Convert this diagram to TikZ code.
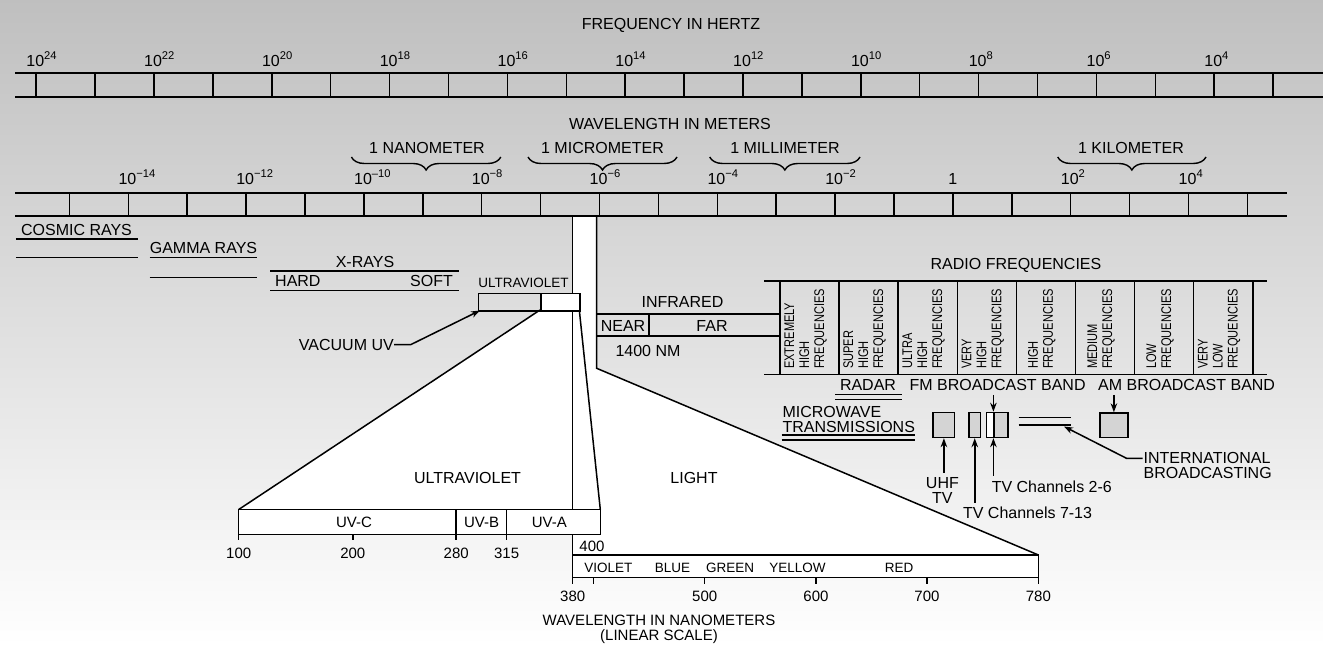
\documentclass[tikz,border=0pt]{standalone}
\usepackage{fontspec}
\setmainfont{Liberation Sans}
\usetikzlibrary{arrows.meta,decorations.pathreplacing}
\definecolor{boxgray}{gray}{0.83}
\begin{document}
\begin{tikzpicture}[x=1pt,y=-1pt,
  lab/.style={font=\fontsize{16}{16}\selectfont, inner sep=0pt},
  sml/.style={font=\fontsize{13.5}{14}\selectfont, inner sep=0pt},
  num/.style={font=\fontsize{15}{15}\selectfont, inner sep=0pt},
  rad/.style={font=\fontsize{14}{15}\selectfont, inner sep=0pt, rotate=90, anchor=west},
  bar/.style={line width=2pt},
  tk/.style={line width=1.5pt},
  ln/.style={line width=1.5pt},
  arr/.style={line width=1.5pt, -{Stealth[length=9pt,width=6.5pt]}},
  brc/.style={line width=1.4pt, decorate, decoration={brace,mirror,amplitude=13pt}},
  gbox/.style={draw, line width=1.5pt, fill=boxgray, inner sep=0pt, anchor=north west},
  wbox/.style={draw, line width=1.5pt, fill=white, inner sep=0pt, anchor=north west},
]
\useasboundingbox (0,0) rectangle (1323,646);
\shade[top color=black!25, bottom color=white] (0,0) rectangle (1323,646);

% white regions
\fill[white] (572.7,216) -- (596.7,216) -- (596.7,368.3) -- (1038.4,555) -- (572.7,555) -- cycle;
\fill[white] (540,310) -- (238.7,509.5) -- (600.3,509.5) -- (579.3,310) -- cycle;

% frequency scale
\node[lab] (fhz) at (671,25) {FREQUENCY IN HERTZ};
\draw[bar] (15,73) -- (1323,73) (15,97) -- (1323,97);
\foreach \k in {0,...,21} \draw[tk] ({36.2+58.9*\k},73) -- ({36.2+58.9*\k},97);
\foreach \k/\e in {0/24,2/22,4/20,6/18,8/16,10/14,12/12,14/10,16/8,18/6,20/4}
  \node[lab, anchor=base west] (f\e) at ({36.2+58.9*\k-10},66) {10\textsuperscript{\e}};

% wavelength scale
\node[lab] (wlm) at (670,124) {WAVELENGTH IN METERS};
\draw[bar] (15,193) -- (1287,193) (15,216) -- (1287,216);
\foreach \j in {0,...,20} \draw[tk] ({69.4+58.9*\j},193) -- ({69.4+58.9*\j},216);
\foreach \j/\e in {1/−14,3/−12,5/–10,7/−8,9/−6,11/−4,13/−2,17/2,19/4}
  \node[lab, anchor=base west] (w\j) at ({69.4+58.9*\j-10},184) {10\textsuperscript{\e}};
\node[lab, anchor=base] (w15) at ({69.4+58.9*15},184) {1};

% braces
\draw[brc] (351.4,157) -- (500.8,157);
\node[lab] (nano) at (427,148) {1 NANOMETER};
\draw[brc] (528,157) -- (677,157);
\node[lab] (micro) at (602.5,148) {1 MICROMETER};
\draw[brc] (709.7,157) -- (860,157);
\node[lab] (milli) at (785,148) {1 MILLIMETER};
\draw[brc] (1057.7,157) -- (1206,157);
\node[lab] (kilo) at (1131,148) {1 KILOMETER};

% left bands
\node[lab] (cosmic) at (76.5,230) {COSMIC RAYS};
\draw[ln] (15.8,239) -- (137.6,239) (15.8,257.7) -- (137.6,257.7);
\node[lab] (gamma) at (203.5,248) {GAMMA RAYS};
\draw[ln] (149.5,257.7) -- (257,257.7) (149.5,277.7) -- (257,277.7);
\node[lab] (xray) at (365,262) {X-RAYS};
\draw[ln] (270,271) -- (458.7,271) (270,290.3) -- (458.7,290.3);
\node[lab, anchor=west] (hard) at (275,281) {HARD};
\node[lab, anchor=east] (soft) at (453,281) {SOFT};

% small ultraviolet box
\node[sml] (uvs) at (523.5,283) {ULTRAVIOLET};
\node[draw, line width=1.5pt, inner sep=0pt, minimum width=62.3pt, minimum height=17.5pt, anchor=north west] (vuvbox) at (477.7,292.5) {};
\node[wbox, minimum width=39.3pt, minimum height=17.5pt] (uvwbox) at (540,292.5) {};

% column and fans
\draw[ln] (572.7,216) -- (572.7,292.5);
\draw[ln] (572.7,310) -- (572.7,509.5);
\draw[ln] (572.7,534.3) -- (572.7,584);
\draw[ln] (596.7,216) -- (596.7,368.3) -- (1038.4,555);
\draw[ln] (579.3,310) -- (600.3,509.5);
\draw[ln] (540,310) -- (238.7,509.5);

% vacuum uv
\node[lab, anchor=east] (vuv) at (394,344.5) {VACUUM UV};
\coordinate (vuvtip) at (480,310.5);
\draw[arr] (vuv.east) -- ++(17,0) -- (vuvtip);

% infrared
\node[lab] (ir) at (682.5,301.7) {INFRARED};
\draw[ln] (596.7,314) -- (779.3,314) (596.7,336) -- (779.3,336) (649,314) -- (649,336);
\node[lab] (near) at (623,325.5) {NEAR};
\node[lab] (far) at (712,325.5) {FAR};
\node[lab] (nm1400) at (648,350.7) {1400 NM};

% radio frequencies
\node[lab] (rf) at (1016,265) {RADIO FREQUENCIES};
\draw[ln] (764,281) -- (1267,281) (764,374.5) -- (1267,374.5);
\foreach \i in {0,...,8} \draw[ln] ({780+59.1*\i},281) -- ({780+59.1*\i},374.5);
\node[rad] (r0) at (806,369) {\scalebox{0.79}[1]{\begin{tabular}{@{}l@{}}EXTREMELY\\HIGH\\FREQUENCIES\end{tabular}}};
\node[rad] (r1) at (865.1,369) {\scalebox{0.79}[1]{\begin{tabular}{@{}l@{}}SUPER\\HIGH\\FREQUENCIES\end{tabular}}};
\node[rad] (r2) at (924.2,369) {\scalebox{0.79}[1]{\begin{tabular}{@{}l@{}}ULTRA\\HIGH\\FREQUENCIES\end{tabular}}};
\node[rad] (r3) at (983.3,369) {\scalebox{0.79}[1]{\begin{tabular}{@{}l@{}}VERY\\HIGH\\FREQUENCIES\end{tabular}}};
\node[rad] (r4) at (1042.4,369) {\scalebox{0.79}[1]{\begin{tabular}{@{}l@{}}HIGH\\FREQUENCIES\end{tabular}}};
\node[rad] (r5) at (1101.5,369) {\scalebox{0.79}[1]{\begin{tabular}{@{}l@{}}MEDIUM\\FREQUENCIES\end{tabular}}};
\node[rad] (r6) at (1160.6,369) {\scalebox{0.79}[1]{\begin{tabular}{@{}l@{}}LOW\\FREQUENCIES\end{tabular}}};
\node[rad] (r7) at (1219.7,369) {\scalebox{0.79}[1]{\begin{tabular}{@{}l@{}}VERY\\LOW\\FREQUENCIES\end{tabular}}};

% broadcast bands
\node[lab] (radar) at (868,385) {RADAR};
\draw[line width=1.3pt] (835.4,394.3) -- (901.8,394.3) (835.4,399.3) -- (901.8,399.3);
\node[lab] (fm) at (997.6,385) {FM BROADCAST BAND};
\node[lab] (am) at (1186.6,385) {AM BROADCAST BAND};
\node[lab, anchor=west] (mw1) at (782.3,411.7) {MICROWAVE};
\node[lab, anchor=west] (mw2) at (782.3,426.7) {TRANSMISSIONS};
\draw[line width=1.3pt] (781.5,435) -- (915,435) (781.5,440) -- (915,440);

\node[gbox, minimum width=21.5pt, minimum height=25pt] (uhf) at (932.4,411.7) {};
\node[gbox, minimum width=11.4pt, minimum height=25pt] (tv713) at (968.3,411.7) {};
\node[wbox, minimum width=7.9pt, minimum height=25pt] (tv26a) at (985.5,411.7) {};
\node[gbox, minimum width=13.6pt, minimum height=25pt] (tv26b) at (993.4,411.7) {};
\node[gbox, minimum width=27.7pt, minimum height=24.4pt] (ambox) at (1099.3,412.3) {};
\draw[ln] (1018.5,417.3) -- (1070.6,417.3) (1018.5,425) -- (1070.6,425);

\draw[arr] ([yshift=-4pt]fm.south -| tv26b.north west) -- (tv26b.north west);
\draw[arr] ([yshift=-4pt]am.south -| ambox.north) -- (ambox.north);

\node[lab] (uhfl1) at (942.4,483.3) {UHF};
\node[lab] (uhfl2) at (942.4,497.7) {TV};
\draw[arr] ([yshift=5pt]uhfl1.north -| uhf.south) -- (uhf.south);
\node[lab, anchor=west] (tv713l) at (962.9,512.7) {TV Channels 7-13};
\draw[arr] ([yshift=4pt]tv713l.north -| tv713.south) -- (tv713.south);
\node[lab, anchor=west] (tv26l) at (991.6,486.7) {TV Channels 2-6};
\draw[arr] ([yshift=5pt]tv26l.north -| tv26b.south west) -- (tv26b.south west);

\node[lab, anchor=west] (intl1) at (1143.5,458.3) {INTERNATIONAL};
\node[lab, anchor=west] (intl2) at (1143.5,473.3) {BROADCASTING};
\coordinate (intltip) at (1064,426.5);
\draw[arr] ([xshift=-1pt]intl1.west) -- ++(-16,0) -- (intltip);

% lower: ultraviolet and light
\node[lab] (uvbig) at (467.5,477.7) {ULTRAVIOLET};
\node[lab] (light) at (694,477.7) {LIGHT};
\draw[ln, fill=white] (238.7,509.5) rectangle (600.3,534.3);
\draw[ln] (456.2,509.5) -- (456.2,534.3) (506.6,509.5) -- (506.6,534.3);
\node[num] (uvc) at (354,522) {UV-C};
\node[num] (uvb) at (481.5,522) {UV-B};
\node[num] (uva) at (549.4,522) {UV-A};
\foreach \x in {238.7,352.8,456.2,506.6} \draw[tk] (\x,534.3) -- (\x,540);
\node[num] (n100) at (238.7,553) {100};
\node[num] (n200) at (352.8,553) {200};
\node[num] (n280) at (456.2,553) {280};
\node[num] (n315) at (506.6,553) {315};
\node[num] (n400) at (592,546.7) {400};

\draw[ln, fill=white] (572.7,555) rectangle (1038.4,577.3);
\foreach \x in {593.3,704.7,816,927,1038.4} \draw[tk] (\x,577.3) -- (\x,584);
\node[sml] (violet) at (608.3,568.3) {VIOLET};
\node[sml] (blue) at (672.6,568.3) {BLUE};
\node[sml] (green) at (730,568.3) {GREEN};
\node[sml] (yellow) at (797.4,568.3) {YELLOW};
\node[sml] (red) at (899,568.3) {RED};
\node[num] (n380) at (572.7,596.7) {380};
\node[num] (n500) at (704.7,596.7) {500};
\node[num] (n600) at (816,596.7) {600};
\node[num] (n700) at (927,596.7) {700};
\node[num] (n780) at (1038.4,596.7) {780};
\node[num] (wln) at (659,620.5) {WAVELENGTH IN NANOMETERS};
\node[num] (lin) at (659,636.5) {(LINEAR SCALE)};
\end{tikzpicture}
\end{document}
